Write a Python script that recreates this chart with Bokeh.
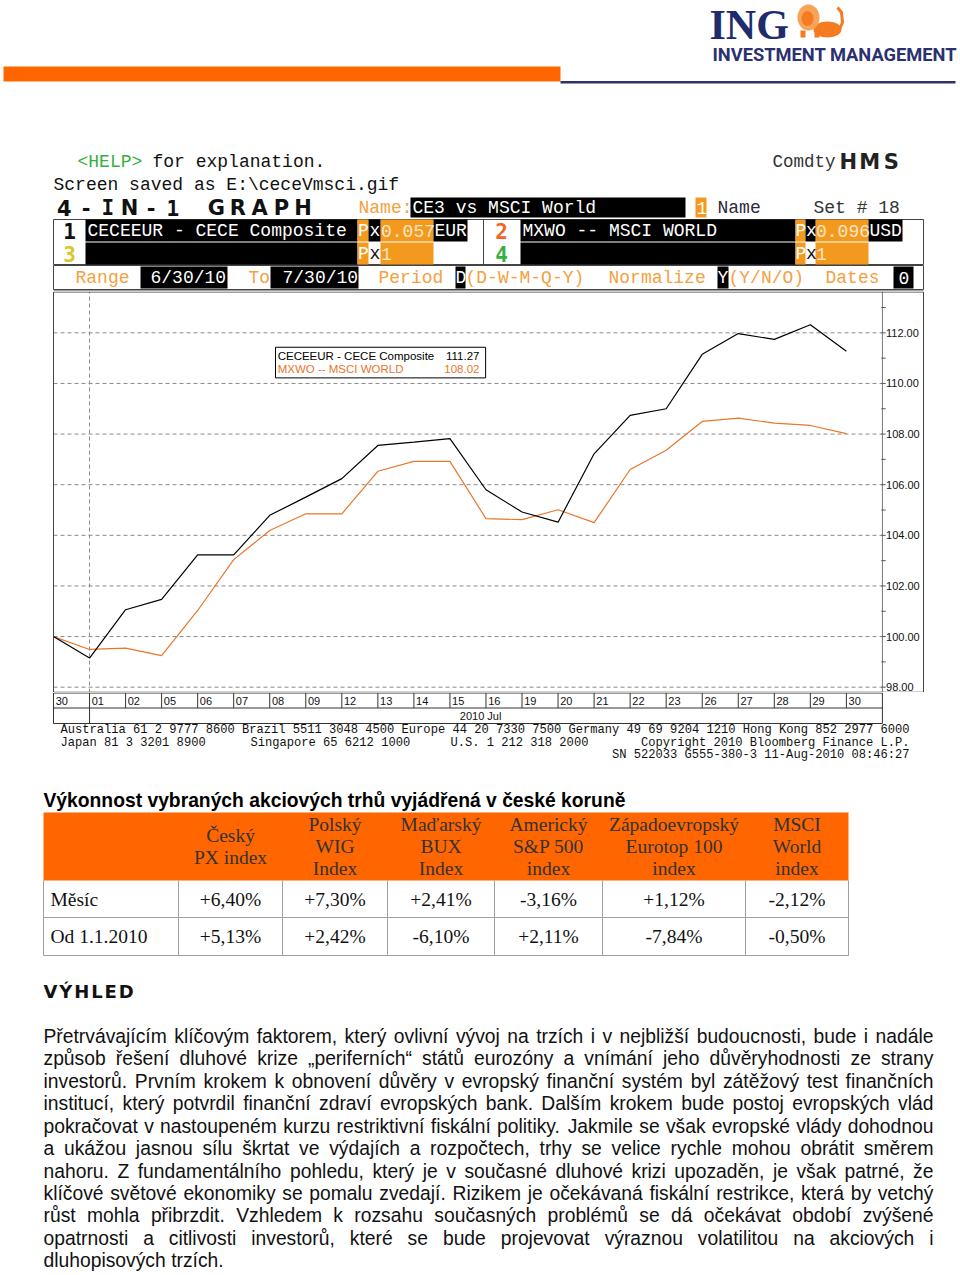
from bokeh.plotting import figure
from bokeh.layouts import column
from bokeh.models import Range1d
from bokeh.core.properties import value
from bokeh.embed import file_html
from bokeh.resources import INLINE

# ---------------- data ----------------
dates = ["30", "01", "02", "05", "06", "07", "08", "09", "12", "13", "14", "15",
         "16", "19", "20", "21", "22", "23", "26", "27", "28", "29", "30"]
cece = [100.00, 99.15, 101.06, 101.47, 103.23, 103.23, 104.79, 105.51, 106.24, 107.55,
        107.68, 107.82, 105.80, 104.92, 104.52, 107.22, 108.74, 109.00, 111.15, 111.97,
        111.74, 112.32, 111.27]
msci = [100.00, 99.49, 99.54, 99.25, 101.03, 103.04, 104.19, 104.85, 104.85, 106.53,
        106.92, 106.92, 104.66, 104.62, 105.01, 104.50, 106.60, 107.36, 108.50, 108.63,
        108.43, 108.34, 108.02]
y_ticks = [98, 100, 102, 104, 106, 108, 110, 112]
series_names = ["CECEEUR - CECE Composite", "MXWO -- MSCI WORLD"]
period_label = "2010 Jul"

table_title = "Výkonnost vybraných akciových trhů vyjádřená v české koruně"
col_heads = [["Český", "PX index"], ["Polský", "WIG", "Index"], ["Maďarský", "BUX", "Index"],
             ["Americký", "S&P 500", "index"], ["Západoevropský", "Eurotop 100", "index"],
             ["MSCI", "World", "index"]]
row_labels = ["Měsíc", "Od 1.1.2010"]
month_chg = [6.40, 7.30, 2.41, -3.16, 1.12, -2.12]
ytd_chg = [5.13, 2.42, -6.10, 2.11, -7.84, -0.50]

heading = "VÝHLED"
para_lines = [
    "Přetrvávajícím klíčovým faktorem, který ovlivní vývoj na trzích i v nejbližší budoucnosti, bude i nadále",
    "způsob řešení dluhové krize „periferních“ států eurozóny a vnímání jeho důvěryhodnosti ze strany",
    "investorů. Prvním krokem k obnovení důvěry v evropský finanční systém byl zátěžový test finančních",
    "institucí, který potvrdil finanční zdraví evropských bank. Dalším krokem bude postoj evropských vlád",
    "pokračovat v nastoupeném kurzu restriktivní fiskální politiky. Jakmile se však evropské vlády dohodnou",
    "a ukážou jasnou sílu škrtat ve výdajích a rozpočtech, trhy se velice rychle mohou obrátit směrem",
    "nahoru. Z fundamentálního pohledu, který je v současné dluhové krizi upozaděn, je však patrné, že",
    "klíčové světové ekonomiky se pomalu zvedají. Rizikem je očekávaná fiskální restrikce, která by vetchý",
    "růst mohla přibrzdit. Vzhledem k rozsahu současných problémů se dá očekávat období zvýšené",
    "opatrnosti a citlivosti investorů, které se bude projevovat výraznou volatilitou na akciových i",
    "dluhopisových trzích.",
]

# ---------------- helpers ----------------
W_PAGE = 960
MONO = "Liberation Mono"
ORG_TXT = "#f4a142"
ORG_BOX = "#f39a1e"


def base_fig(h, xr, yr):
    p = figure(width=W_PAGE, height=h, x_range=xr, y_range=yr, output_backend="svg",
               toolbar_location=None, x_axis_location=None, y_axis_location=None,
               min_border=0, min_border_left=0, min_border_right=0, min_border_top=0,
               min_border_bottom=0, outline_line_color=None)
    p.grid.visible = False
    return p


def page_fig(y0, y1):
    return base_fig(int(y1 - y0), Range1d(0, W_PAGE), Range1d(y1, y0))


def T(p, x, y, s, size, color="#111111", font=MONO, bold=False, align="left", baseline="middle"):
    p.text(x=[x], y=[y], text=[s], text_font=value(font), text_font_size=f"{size}px",
           text_color=color, text_align=align, text_baseline=baseline,
           text_font_style="bold" if bold else "normal")


def R(p, l, r, t, b, fill, line=None, lw=1):
    p.quad(left=[l], right=[r], top=[t], bottom=[b], fill_color=fill, line_color=line,
           line_width=lw)


def wide(p, x0, y, s, step, size, color):
    # Bloomberg style wide bold lettering, one character per cell
    for k, ch in enumerate(s):
        font = "DejaVu Sans Mono" if ch in "I1" else "DejaVu Sans"
        T(p, x0 + k * step + step / 2, y, ch, size, color, font, True, "center")


# ---------------- header (page y 0..291) ----------------
hf = page_fig(0, 291)
# logo
T(hf, 709, 24, "ING", 42, "#1f2c6b", "Liberation Serif", bold=True)
hf.ellipse(x=[827], y=[29], width=[28], height=[16], fill_color="#f47b20", line_color=None)
hf.ellipse(x=[808], y=[17], width=[22], height=[26], fill_color="#f9a35a", line_color=None)
hf.ellipse(x=[807], y=[18], width=[12], height=[15], fill_color="#f47b20", line_color=None)
hf.quad(left=[800, 814], right=[805, 819], top=[30, 30], bottom=[37, 37],
        fill_color="#f47b20", line_color=None)
hf.line(x=[838, 842, 841, 837], y=[31, 22, 12, 7], line_color="#f47b20", line_width=3)
T(hf, 712, 54, "INVESTMENT MANAGEMENT", 18.3, "#2b3070", "Roboto", bold=True)
R(hf, 3, 560, 66, 81, "#ff6600")
R(hf, 560, 955, 80.5, 83, "#2e3272")

# bloomberg header
T(hf, 77, 161, "<HELP>", 18, "#35b040")
T(hf, 152, 161, "for explanation.", 18)
T(hf, 53, 184, "Screen saved as E:\\ceceVmsci.gif", 18)
wide(hf, 53, 207, "4-IN-1 GRAPH", 21.7, 21, "#111111")
T(hf, 772, 161, "Comdty", 17.5, "#333333")
wide(hf, 837, 161, "HMS", 21.5, 21, "#222222")
T(hf, 358, 207, "Name:", 18, ORG_TXT)
R(hf, 410, 685, 197, 217, "#000000")
T(hf, 412, 207, "CE3 vs MSCI World", 18, "#ffffff")
R(hf, 695, 706, 197, 217, ORG_BOX)
T(hf, 696, 207, "1", 18, "#ffffff")
T(hf, 717, 207, "Name", 18, "#2b2b3b")
T(hf, 813, 207, "Set # 18", 18, "#333333")

# rows 1-2
R(hf, 53, 923, 219, 264, "#ffffff", "#444444")
hf.segment(x0=[483], y0=[219], x1=[483], y1=[264], line_color="#444444")
for (t, b) in [(219, 241), (242, 264)]:
    R(hf, 85, 357, t, b, "#000000")
    R(hf, 520, 795, t, b, "#000000")
    R(hf, 357, 368, t, b, ORG_BOX)
    R(hf, 380, 433, t, b, ORG_BOX)
    R(hf, 795, 805, t, b, ORG_BOX)
    R(hf, 815, 868, t, b, ORG_BOX)
R(hf, 368, 380, 219, 241, "#000000")
R(hf, 433, 467, 219, 241, "#000000")
R(hf, 805, 815, 219, 241, "#000000")
R(hf, 868, 902, 219, 241, "#000000")
for (ch, col, cx, cy) in [("1", "#111111", 69, 230), ("3", "#d8c82a", 69, 253),
                          ("2", "#f26522", 501, 230), ("4", "#35b040", 501, 253)]:
    T(hf, cx, cy, ch, 21, col, "DejaVu Sans Mono", True, "center")
T(hf, 87, 230, "CECEEUR - CECE Composite", 18, "#ffffff")
T(hf, 357.5, 230, "P", 18, "#ffffff")
T(hf, 369, 230, "x", 18, "#ffffff")
T(hf, 380.5, 230, "0.057", 18, "#fde6c6")
T(hf, 434, 230, "EUR", 18, "#ffffff")
T(hf, 357.5, 253, "P", 18, "#ffffff")
T(hf, 369, 253, "x", 18, "#111111")
T(hf, 380.5, 253, "1", 18, "#fde6c6")
T(hf, 522, 230, "MXWO -- MSCI WORLD", 18, "#ffffff")
T(hf, 795, 230, "P", 18, "#ffffff")
T(hf, 805.5, 230, "x", 18, "#ffffff")
T(hf, 815.5, 230, "0.096", 18, "#fde6c6")
T(hf, 869, 230, "USD", 18, "#ffffff")
T(hf, 795, 253, "P", 18, "#ffffff")
T(hf, 805.5, 253, "x", 18, "#111111")
T(hf, 815.5, 253, "1", 18, "#fde6c6")

# row 3
R(hf, 53, 923, 265, 289, "#ffffff", "#444444")
R(hf, 140, 227, 266, 288, "#000000")
R(hf, 270, 358, 266, 288, "#000000")
R(hf, 455, 465, 266, 288, "#000000")
R(hf, 717, 728, 266, 288, "#000000")
R(hf, 893, 913, 266, 288, "#000000")
T(hf, 75, 277, "Range", 18, ORG_TXT)
T(hf, 150, 277, "6/30/10", 18, "#ffffff")
T(hf, 248, 277, "To", 18, ORG_TXT)
T(hf, 282, 277, "7/30/10", 18, "#ffffff")
T(hf, 378, 277, "Period", 18, ORG_TXT)
T(hf, 455, 277, "D", 18, "#ffffff")
T(hf, 465, 277, "(D-W-M-Q-Y)", 18, ORG_TXT)
T(hf, 608, 277, "Normalize", 18, ORG_TXT)
T(hf, 717, 277, "Y", 18, "#ffffff")
T(hf, 728, 277, "(Y/N/O)", 18, ORG_TXT)
T(hf, 825, 277, "Dates", 18, ORG_TXT)
T(hf, 898, 277, "0", 18, "#ffffff")
hf.segment(x0=[53], y0=[290.5], x1=[923], y1=[290.5], line_color="#444444")

# ---------------- chart (page y 291..692) ----------------
n = len(dates)
idx = list(range(n))
PPU = 36.04                     # pixels per trading day
X_START = -53 / PPU             # chart frame spans the whole page width
X_END = X_START + W_PAGE / PPU
X_BOX = (923 - 53) / PPU        # right edge of the outer chart box
Y_TOP, Y_BOT = 113.633, 97.79
cf = base_fig(401, Range1d(X_START, X_END), Range1d(Y_BOT, Y_TOP))

cf.segment(x0=[0] * len(y_ticks), y0=y_ticks, x1=[n] * len(y_ticks), y1=y_ticks,
           line_color="#8a8a8a", line_dash="4 3", line_width=1)
cf.segment(x0=[1], y0=[Y_BOT], x1=[1], y1=[Y_TOP], line_color="#8a8a8a", line_dash="4 3")
cf.segment(x0=[n], y0=[Y_BOT], x1=[n], y1=[Y_TOP], line_color="#777777")
cf.quad(left=[0], right=[X_BOX], bottom=[Y_BOT + 0.01], top=[Y_TOP - 0.02], fill_color=None,
        line_color="#444444")
tick_vals = list(range(y_ticks[0], y_ticks[-1] + 2))
cf.segment(x0=[n - 0.03] * len(tick_vals), y0=tick_vals, x1=[n + 0.09] * len(tick_vals),
           y1=tick_vals, line_color="#555555")
cf.text(x=[n + 0.1] * len(y_ticks), y=y_ticks, text=[f"{v:.2f}" for v in y_ticks],
        text_font=value("Liberation Sans"), text_font_size="11px", text_color="#111111",
        text_baseline="middle")

cf.line(idx, msci, line_color="#E8762B", line_width=1.2)
cf.line(idx, cece, line_color="#000000", line_width=1.2)

# legend box
cf.quad(left=[6.16], right=[11.99], bottom=[110.22], top=[111.43], fill_color="#ffffff",
        line_color="#000000")
cf.text(x=[6.22, 6.22], y=[111.1, 110.58], text=series_names,
        text_color=["#000000", "#E8762B"], text_font=value("Liberation Sans"),
        text_font_size="11.5px", text_baseline="middle")
cf.text(x=[11.82, 11.82], y=[111.1, 110.58], text=[f"{cece[-1]:.2f}", f"{msci[-1]:.2f}"],
        text_color=["#000000", "#E8762B"], text_font=value("Liberation Sans"),
        text_font_size="11.5px", text_baseline="middle", text_align="right")

# ---------------- date rows + bloomberg footer (page y 692..762) ----------------
dfg = base_fig(70, cf.x_range, Range1d(762, 692))
R1T, R1B, R2B = 692.5, 707.5, 723
dfg.quad(left=[0], right=[n], bottom=[R2B], top=[R1T], fill_color=None, line_color="#333333")
dfg.segment(x0=[0], y0=[R1B], x1=[n], y1=[R1B], line_color="#333333")
dfg.segment(x0=idx[1:], y0=[R1T] * (n - 1), x1=idx[1:], y1=[R1B] * (n - 1), line_color="#333333")
dfg.segment(x0=[1], y0=[R1B], x1=[1], y1=[R2B], line_color="#333333")
dfg.text(x=[i + 0.06 for i in idx], y=[(R1T + R1B) / 2] * n, text=dates,
         text_font=value("Liberation Sans"), text_font_size="11px", text_baseline="middle",
         text_color="#111111")
dfg.text(x=[(1 + n) / 2 - 0.15], y=[(R1B + R2B) / 2], text=[period_label],
         text_font=value("Liberation Sans"), text_font_size="11px", text_baseline="middle",
         text_align="center", text_color="#111111")


def px(p):
    return X_START + p / PPU


FS = 12.1
T(dfg, px(60), 729.5, "Australia 61 2 9777 8600 Brazil 5511 3048 4500 Europe 44 20 7330 7500 Germany 49 69 9204 1210 Hong Kong 852 2977 6000", FS)
T(dfg, px(60), 742, "Japan 81 3 3201 8900", FS)
T(dfg, px(250), 742, "Singapore 65 6212 1000", FS)
T(dfg, px(450), 742, "U.S. 1 212 318 2000", FS)
T(dfg, px(909), 742, "Copyright 2010 Bloomberg Finance L.P.", FS, align="right")
T(dfg, px(909), 754.5, "SN 522033 G555-380-3 11-Aug-2010 08:46:27", FS, align="right")

# ---------------- bottom (page y 762..1275) ----------------
bf = page_fig(762, 1275)

# table
T(bf, 43, 800, table_title, 19.3, "#000000", "Liberation Sans", bold=True)
col_x = [43, 178, 282, 387, 494, 602, 745, 848]
R(bf, col_x[0], col_x[-1], 812, 880, "#ff6600")
SERIF = "Liberation Serif"
for c, lines in enumerate(col_heads):
    cx = (col_x[c + 1] + col_x[c + 2]) / 2
    y_start = 846 - (len(lines) - 1) * 11
    for j, s in enumerate(lines):
        T(bf, cx, y_start + j * 22, s, 19.5, "#333333", SERIF, align="center")
row_y = [880, 917, 955]
for yy in row_y[1:]:
    bf.segment(x0=[col_x[0]], y0=[yy], x1=[col_x[-1]], y1=[yy], line_color="#a0a0a0")
for xx in col_x:
    bf.segment(x0=[xx], y0=[row_y[0]], x1=[xx], y1=[row_y[-1]], line_color="#a0a0a0")


def fmt(v):
    return f"{v:+.2f}%".replace(".", ",")


for r, (lab, vals) in enumerate(zip(row_labels, [month_chg, ytd_chg])):
    cy = (row_y[r] + row_y[r + 1]) / 2
    T(bf, 50, cy, lab, 19.5, "#111111", SERIF)
    for c, v in enumerate(vals):
        cx = (col_x[c + 1] + col_x[c + 2]) / 2
        T(bf, cx, cy, fmt(v), 19.5, "#111111", SERIF, align="center")

# heading
HW = {"V": 0.774, "Ý": 0.724, "H": 0.837, "L": 0.637, "E": 0.683, "D": 0.830}
hx = 43
for ch in heading:
    T(bf, hx, 991, ch, 18, "#111111", "DejaVu Sans", bold=True)
    hx += HW.get(ch, 0.75) * 18 + 1.9

# paragraph (justified)
AW = {" ": 278, ",": 278, ".": 278, "„": 333, "“": 333, "-": 333,
      "A": 667, "B": 667, "C": 722, "D": 722, "E": 667, "F": 611, "G": 778, "H": 722,
      "I": 278, "J": 500, "K": 667, "L": 556, "M": 833, "N": 722, "O": 778, "P": 667,
      "Q": 778, "R": 722, "S": 667, "T": 611, "U": 722, "V": 667, "W": 944, "X": 667,
      "Y": 667, "Z": 611,
      "a": 556, "b": 556, "c": 500, "d": 556, "e": 556, "f": 278, "g": 556, "h": 556,
      "i": 222, "j": 222, "k": 500, "l": 222, "m": 833, "n": 556, "o": 556, "p": 556,
      "q": 556, "r": 333, "s": 500, "t": 278, "u": 556, "v": 500, "w": 722, "x": 500,
      "y": 500, "z": 500,
      "á": 556, "č": 500, "ď": 615, "é": 556, "ě": 556, "í": 278, "ň": 556, "ó": 556,
      "ř": 333, "š": 500, "ť": 375, "ú": 556, "ů": 556, "ý": 500, "ž": 500,
      "Č": 722, "Ř": 722, "Š": 667, "Ž": 611, "Ý": 667}
PSIZE = 19.3
LEFT, RIGHT = 43, 933


def tw(s):
    return sum(AW.get(ch, 556) for ch in s) * PSIZE / 1000


wx, wy, wt = [], [], []
for li, line in enumerate(para_lines):
    words = line.split(" ")
    widths = [tw(w) for w in words]
    y = 1036 + li * 22.42
    if li < len(para_lines) - 1 and len(words) > 1:
        gap = (RIGHT - LEFT - sum(widths)) / (len(words) - 1)
    else:
        gap = tw(" ")
    x = LEFT
    for w, ww in zip(words, widths):
        wx.append(x)
        wy.append(y)
        wt.append(w)
        x += ww + gap
bf.text(x=wx, y=wy, text=wt, text_font=value("Liberation Sans"), text_font_size=f"{PSIZE}px",
        text_color="#111111", text_baseline="middle")

page = column(hf, cf, dfg, bf, spacing=0)
open("out.html", "w").write(file_html(page, INLINE))
